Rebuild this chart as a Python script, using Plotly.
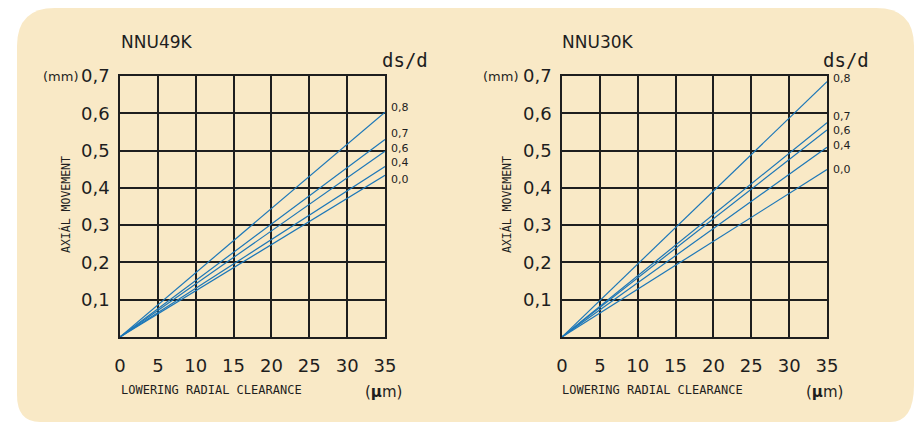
import plotly.graph_objects as go

W, H = 917, 422

# ds/d ratios and axial movement (mm) at 35 µm of radial clearance reduction
ratios = ["0,8", "0,7", "0,6", "0,4", "0,0"]
nnu49k_end = [0.603, 0.530, 0.498, 0.457, 0.434]
nnu30k_end = [0.685, 0.575, 0.555, 0.509, 0.449]
clearance = [0, 35]

x_ticks = [0, 5, 10, 15, 20, 25, 30, 35]
x_labels = ["0", "5", "10", "15", "20", "25", "30", "35"]
y_ticks = [0.1, 0.2, 0.3, 0.4, 0.5, 0.6, 0.7]
y_labels = ["0,1", "0,2", "0,3", "0,4", "0,5", "0,6", "0,7"]

# pixel nudges for the ds/d labels so they don't overlap
shift_49 = [5, 6, 3, 4, -4]
shift_30 = [3, 6, 0, 2, 0]

BLUE = "#1c77b8"
INK = "#1e1e1e"
CREAM = "#f9e9c6"

fig = go.Figure()
panels = [("x", "y", nnu49k_end, shift_49, "NNU49K", 0),
          ("x2", "y2", nnu30k_end, shift_30, "NNU30K", 441)]

for xa, ya, ends, shifts, name, dx in panels:
    for r, v, s in zip(ratios, ends, shifts):
        fig.add_trace(go.Scatter(x=clearance, y=[0, v], mode="lines", xaxis=xa, yaxis=ya,
                                 line=dict(color=BLUE, width=1.2), showlegend=False,
                                 hoverinfo="skip"))
        fig.add_annotation(x=clearance[-1], y=v, xref=xa, yref=ya, text=r, showarrow=False,
                           xanchor="left", yanchor="middle", xshift=4, yshift=s,
                           font=dict(family="DejaVu Sans", size=11, color=INK))

    def px(x, y, text, size, family="DejaVu Sans", xanchor="center", angle=0):
        fig.add_annotation(x=(x + dx) / W, y=1 - y / H, xref="paper", yref="paper", text=text,
                           showarrow=False, xanchor=xanchor, yanchor="middle", textangle=angle,
                           font=dict(family=family, size=size, color=INK))

    px(119, 42, name, 17, xanchor="left")
    px(405, 60, "ds/d", 19, family="DejaVu Sans Mono")
    px(60, 77, "(mm)", 13)
    px(66, 205, "AXIÁL MOVEMENT", 11.5, family="DejaVu Sans Mono", angle=-90)
    px(119, 390, "LOWERING RADIAL CLEARANCE", 12, family="DejaVu Sans Mono", xanchor="left")
    px(383, 392, "(<b>μ</b>m)", 15)

axis_common = dict(showline=True, mirror=True, linecolor=INK, linewidth=1.5, automargin=False,
                   showgrid=True, gridcolor=INK, gridwidth=1.5, zeroline=False, ticks="",
                   tickfont=dict(family="DejaVu Sans", size=18, color=INK))
xdom = [(120 / W, 385 / W), (562 / W, 827 / W)]
ydom = (1 - 337 / H, 1 - 76 / H)

fig.update_layout(
    width=W, height=H, margin=dict(l=0, r=0, t=0, b=0, pad=0, autoexpand=False),
    paper_bgcolor="white", plot_bgcolor="rgba(0,0,0,0)",
    xaxis=dict(axis_common, domain=xdom[0], range=[0, 35], tickvals=x_ticks, ticktext=x_labels,
               anchor="y", ticklabelstandoff=12),
    yaxis=dict(axis_common, domain=ydom, range=[0, 0.7], tickvals=y_ticks, ticktext=y_labels,
               anchor="x", ticklabelstandoff=5),
    xaxis2=dict(axis_common, domain=xdom[1], range=[0, 35], tickvals=x_ticks, ticktext=x_labels,
                anchor="y2", ticklabelstandoff=12),
    yaxis2=dict(axis_common, domain=ydom, range=[0, 0.7], tickvals=y_ticks, ticktext=y_labels,
                anchor="x2", ticklabelstandoff=5),
)

# rounded cream card behind everything (kept inside the page so nothing overflows)
def P(x, y):
    return f"{x / W:.5f},{1 - y / H:.5f}"
path = (f"M {P(55, 8)} L {P(876, 8)} Q {P(914, 8)} {P(914, 46)} "
        f"L {P(914, 385)} Q {P(914, 422)} {P(890, 422)} "
        f"L {P(40, 422)} Q {P(17, 422)} {P(17, 395)} "
        f"L {P(17, 46)} Q {P(17, 8)} {P(55, 8)} Z")
fig.add_shape(type="path", path=path, xref="paper", yref="paper", layer="below",
              fillcolor=CREAM, line=dict(width=0))

# the default 8px body margin would make the page larger than the window
fig.write_html("out.html", config=dict(displayModeBar=False),
               post_script="document.body.style.margin='0';")
